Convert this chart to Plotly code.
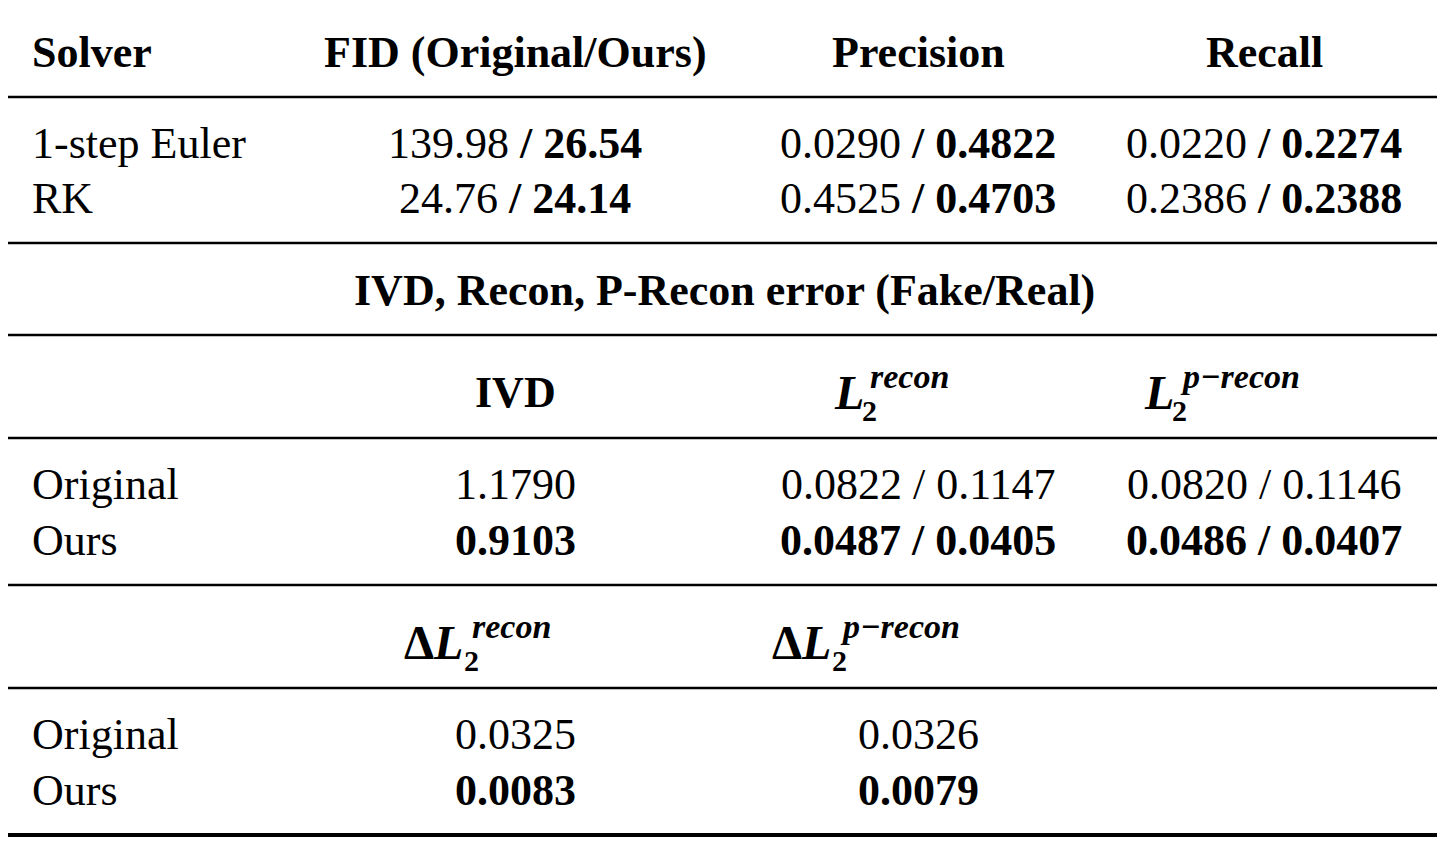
import plotly.graph_objects as go

# table content
header1 = ["Solver", "FID (Original/Ours)", "Precision", "Recall"]
solvers = ["1-step Euler", "RK"]
fid_orig = ["139.98", "24.76"]
fid_ours = ["26.54", "24.14"]
prec_orig = ["0.0290", "0.4525"]
prec_ours = ["0.4822", "0.4703"]
rec_orig = ["0.0220", "0.2386"]
rec_ours = ["0.2274", "0.2388"]
section_title = "IVD, Recon, P-Recon error (Fake/Real)"
methods = ["Original", "Ours"]
ivd = ["1.1790", "0.9103"]
l2_recon = [("0.0822", "0.1147"), ("0.0487", "0.0405")]
l2_precon = [("0.0820", "0.1146"), ("0.0486", "0.0407")]
d_recon = ["0.0325", "0.0083"]
d_precon = ["0.0326", "0.0079"]

W, H = 1448, 842
OFF = 8  # page body margin, so axis units equal page pixels
FONT = "Liberation Serif"
FS = 44
col_x = [30, 515, 918, 1264]

fig = go.Figure()
ann = []


def txt(x, y, s, anchor="center", size=FS):
    ann.append(dict(x=x, y=y, xref="x", yref="y", text=s, showarrow=False,
                    xanchor=anchor, yanchor="middle",
                    font=dict(family=FONT, size=size, color="black")))


def math_label(x, y, sup, delta=False):
    # bold italic L with stacked super/subscripts
    s = "<b>Δ</b>" if delta else ""
    txt(x, y, s + "<b><i>L</i></b>", anchor="left", size=48)
    lw = 32 if delta else 0
    txt(x + lw + 36, y - 16, "<b><i>" + sup + "</i></b>", anchor="left", size=34)
    txt(x + lw + 28, y + 18, "<b>2</b>", anchor="left", size=30)


# header
for i, h in enumerate(header1):
    txt(col_x[i], 52, "<b>" + h + "</b>", anchor="left" if i == 0 else "center")

for r, y in enumerate([143, 198]):
    txt(col_x[0], y, solvers[r], anchor="left")
    txt(col_x[1], y, f"{fid_orig[r]} <b>/ {fid_ours[r]}</b>")
    txt(col_x[2], y, f"{prec_orig[r]} <b>/ {prec_ours[r]}</b>")
    txt(col_x[3], y, f"{rec_orig[r]} <b>/ {rec_ours[r]}</b>")

txt(724, 290, "<b>" + section_title + "</b>")

txt(col_x[1], 392, "<b>IVD</b>")
math_label(832, 392, "recon")
math_label(1142, 392, "p−recon")

for r, y in enumerate([484, 540]):
    b0, b1 = ("<b>", "</b>") if r == 1 else ("", "")
    txt(col_x[0], y, methods[r], anchor="left")
    txt(col_x[1], y, b0 + ivd[r] + b1)
    txt(col_x[2], y, b0 + " / ".join(l2_recon[r]) + b1)
    txt(col_x[3], y, b0 + " / ".join(l2_precon[r]) + b1)

math_label(402, 642, "recon", delta=True)
math_label(770, 642, "p−recon", delta=True)

for r, y in enumerate([734, 790]):
    b0, b1 = ("<b>", "</b>") if r == 1 else ("", "")
    txt(col_x[0], y, methods[r], anchor="left")
    txt(col_x[1], y, b0 + d_recon[r] + b1)
    txt(918, y, b0 + d_precon[r] + b1)

shapes = []
for y, w in [(5, 4), (97, 2.5), (243, 2.5), (335, 2.5), (438, 2.5),
             (585, 2.5), (688, 2.5), (835, 4)]:
    shapes.append(dict(type="line", xref="x", yref="y", x0=8, x1=1437, y0=y, y1=y,
                       line=dict(color="black", width=w)))

fig.update_layout(
    width=W, height=H, margin=dict(l=0, r=0, t=0, b=0),
    plot_bgcolor="white", paper_bgcolor="white",
    xaxis=dict(range=[OFF, W + OFF], visible=False, fixedrange=True),
    yaxis=dict(range=[H + OFF, OFF], visible=False, fixedrange=True),
    annotations=ann, shapes=shapes, showlegend=False,
)

fig.write_html("out.html")
